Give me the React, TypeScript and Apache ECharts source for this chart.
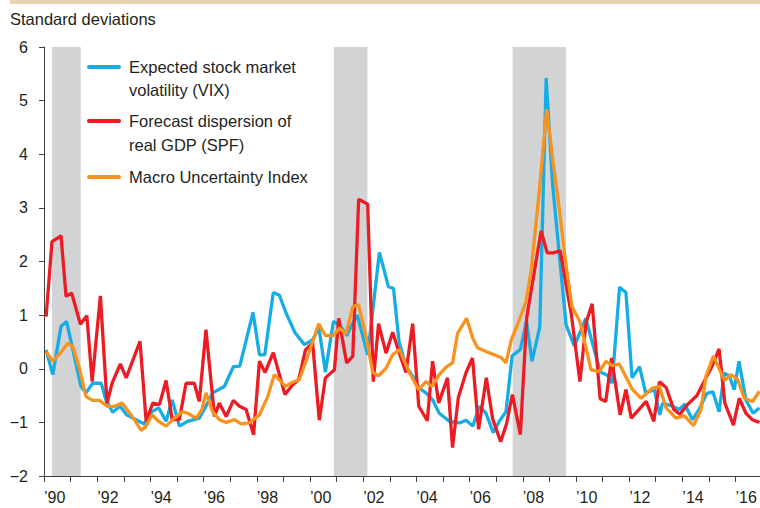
import React, { useEffect, useRef } from 'react';
import * as echarts from 'echarts';

// [year, standard deviations]
const vixData: [number, number][] = [
  [1990.08, 0.35], [1990.33, -0.11], [1990.64, 0.79], [1990.85, 0.88], [1991.14, 0.23], [1991.39, -0.33],
  [1991.58, -0.45], [1991.83, -0.27], [1992.15, -0.27], [1992.33, -0.58], [1992.58, -0.81], [1992.86, -0.70],
  [1993.11, -0.86], [1993.46, -0.95], [1993.77, -1.03], [1994.06, -0.80], [1994.31, -0.73], [1994.59, -0.98],
  [1994.82, -0.58], [1995.09, -1.07], [1995.40, -0.98], [1995.84, -0.92], [1996.09, -0.70], [1996.34, -0.45],
  [1996.78, -0.33], [1997.12, 0.04], [1997.36, 0.05], [1997.86, 1.05], [1998.10, 0.26], [1998.30, 0.26],
  [1998.62, 1.42], [1998.85, 1.37], [1999.10, 1.04], [1999.44, 0.67], [1999.79, 0.45], [2000.10, 0.54],
  [2000.34, 0.76], [2000.58, -0.06], [2000.88, 0.88], [2001.11, 0.82], [2001.39, 0.62], [2001.55, 0.79],
  [2001.78, 1.0], [2002.17, 0.26], [2002.61, 2.17], [2002.95, 1.53], [2003.14, 1.5], [2003.35, 0.5],
  [2003.61, 0.05], [2003.86, -0.14], [2004.11, -0.36], [2004.36, -0.45], [2004.61, -0.58], [2004.86, -0.83],
  [2005.24, -0.98], [2005.62, -1.01], [2005.87, -0.96], [2006.12, -1.07], [2006.37, -0.70], [2006.62, -0.83],
  [2006.89, -1.19], [2007.12, -0.98], [2007.37, -0.80], [2007.60, 0.24], [2007.91, 0.36], [2008.14, 0.88],
  [2008.35, 0.14], [2008.64, 0.78], [2008.88, 5.42], [2009.12, 3.45], [2009.38, 2.1], [2009.63, 0.82],
  [2009.94, 0.42], [2010.37, 0.94], [2010.63, 0.46], [2010.92, -0.06], [2011.18, -0.12], [2011.36, -0.27],
  [2011.64, 1.52], [2011.88, 1.42], [2012.11, -0.17], [2012.39, 0.04], [2012.62, -0.45], [2012.95, -0.39],
  [2013.15, -0.86], [2013.26, -0.64], [2013.58, -0.69], [2013.89, -0.76], [2014.09, -0.66], [2014.38, -0.95],
  [2014.63, -0.76], [2014.92, -0.46], [2015.15, -0.43], [2015.38, -0.80], [2015.58, -0.08], [2015.77, -0.14],
  [2015.95, -0.39], [2016.13, 0.14], [2016.39, -0.58], [2016.66, -0.83], [2016.90, -0.73],
];

const spfData: [number, number][] = [
  [1990.08, 0.97], [1990.30, 2.37], [1990.64, 2.48], [1990.83, 1.35], [1991.04, 1.41], [1991.37, 0.83],
  [1991.61, 0.99], [1991.81, -0.24], [1992.12, 1.36], [1992.37, -0.64], [1992.56, -0.27], [1992.87, 0.09],
  [1993.09, -0.17], [1993.61, 0.51], [1993.84, -0.98], [1994.09, -0.64], [1994.34, -0.67], [1994.59, -0.22],
  [1994.82, -0.95], [1995.09, -0.95], [1995.34, -0.27], [1995.65, -0.27], [1995.84, -0.61], [1996.09, 0.73],
  [1996.41, -0.89], [1996.59, -0.64], [1996.85, -0.89], [1997.12, -0.59], [1997.35, -0.70], [1997.60, -0.76],
  [1997.88, -1.23], [1998.10, 0.14], [1998.31, -0.07], [1998.62, 0.30], [1999.06, -0.48], [1999.35, -0.30],
  [1999.58, -0.20], [1999.83, 0.35], [2000.10, 0.48], [2000.35, -0.96], [2000.58, -0.17], [2000.92, -0.02],
  [2001.08, 0.94], [2001.38, 0.11], [2001.61, 0.23], [2001.83, 3.16], [2002.17, 3.07], [2002.38, -0.24],
  [2002.58, 0.84], [2002.86, 0.29], [2003.11, 0.68], [2003.36, 0.29], [2003.61, -0.07], [2003.86, 0.84],
  [2004.09, -0.70], [2004.41, -0.97], [2004.61, 0.14], [2004.84, -0.64], [2005.17, -0.17], [2005.36, -1.47],
  [2005.58, -0.53], [2005.87, -0.07], [2006.11, 0.2], [2006.34, -1.13], [2006.63, -0.17], [2006.87, -0.94],
  [2007.17, -1.36], [2007.39, -1.03], [2007.61, -0.48], [2007.91, -1.23], [2008.15, 0.96], [2008.69, 2.57],
  [2008.92, 2.16], [2009.15, 2.16], [2009.41, 2.2], [2009.83, 1.0], [2010.15, -0.24], [2010.38, 0.86],
  [2010.61, 1.21], [2010.91, -0.56], [2011.12, -0.61], [2011.34, 0.2], [2011.66, -0.86], [2011.88, -0.39],
  [2012.08, -0.92], [2012.64, -0.61], [2012.93, -0.98], [2013.14, -0.24], [2013.39, -0.35], [2013.68, -0.76],
  [2013.91, -0.85], [2014.19, -0.67], [2014.55, -0.5], [2014.86, -0.2], [2015.14, 0.07], [2015.38, 0.37],
  [2015.60, -0.64], [2015.92, -1.05], [2016.14, -0.55], [2016.39, -0.83], [2016.63, -0.95], [2016.90, -1.0],
];

const macroData: [number, number][] = [
  [1990.08, 0.32], [1990.33, 0.14], [1990.61, 0.29], [1990.89, 0.47], [1991.08, 0.42], [1991.33, 0.01],
  [1991.58, -0.52], [1991.83, -0.59], [1992.08, -0.59], [1992.39, -0.70], [1992.65, -0.70], [1992.94, -0.64],
  [1993.18, -0.80], [1993.40, -0.95], [1993.65, -1.15], [1993.84, -1.07], [1994.06, -0.86], [1994.31, -0.98],
  [1994.59, -1.07], [1994.90, -0.92], [1995.21, -0.80], [1995.40, -0.83], [1995.72, -0.92], [1995.94, -0.76],
  [1996.09, -0.45], [1996.34, -0.80], [1996.59, -0.95], [1996.85, -1.0], [1997.16, -0.95], [1997.41, -1.03],
  [1997.72, -1.01], [1998.10, -0.86], [1998.41, -0.52], [1998.66, -0.11], [1999.08, -0.33], [1999.35, -0.25],
  [1999.60, -0.2], [1999.85, 0.14], [2000.33, 0.84], [2000.58, 0.62], [2000.88, 0.62], [2001.11, 0.76],
  [2001.36, 0.65], [2001.61, 1.16], [2001.83, 1.19], [2002.11, 0.6], [2002.36, -0.07], [2002.58, -0.13],
  [2002.86, 0.01], [2003.11, 0.26], [2003.36, 0.36], [2003.74, -0.08], [2004.09, -0.39], [2004.36, -0.24],
  [2004.59, -0.33], [2004.86, -0.11], [2005.12, 0.03], [2005.36, 0.11], [2005.55, 0.66], [2005.89, 0.94],
  [2006.12, 0.57], [2006.30, 0.39], [2006.62, 0.32], [2006.93, 0.26], [2007.18, 0.21], [2007.37, 0.11],
  [2007.57, 0.54], [2007.87, 0.91], [2008.12, 1.25], [2008.31, 1.81], [2008.62, 3.3], [2008.90, 4.84],
  [2009.13, 3.9], [2009.38, 2.96], [2009.60, 2.03], [2009.85, 1.16], [2010.15, 0.88], [2010.57, -0.02],
  [2010.88, -0.05], [2011.13, 0.14], [2011.36, 0.06], [2011.63, 0.09], [2012.13, -0.39], [2012.45, -0.55],
  [2012.88, -0.36], [2013.14, -0.33], [2013.39, -0.73], [2013.76, -0.92], [2014.08, -0.88], [2014.42, -1.06],
  [2014.70, -0.76], [2014.89, -0.14], [2015.17, 0.24], [2015.58, -0.22], [2015.83, -0.11], [2016.08, -0.2],
  [2016.33, -0.55], [2016.64, -0.61], [2016.90, -0.42],
];

const recessions: [number, number][] = [
  [1990.3, 1991.38],
  [2000.9, 2002.16],
  [2007.62, 2009.63],
];

const seriesNames = [
  ['Expected stock market', 'volatility (VIX)'],
  ['Forecast dispersion of', 'real GDP (SPF)'],
  ['Macro Uncertainty Index'],
];
const seriesColors = ['#16ACE6', '#EC1C24', '#F7931E'];
const unitLabel = 'Standard deviations';

const FONT = "'Liberation Sans', Arial, sans-serif";
const TEXT = '#231F20';

export default function App() {
  const ref = useRef<HTMLDivElement>(null);
  useEffect(() => {
    document.body.style.margin = '0';
    const chart = echarts.init(ref.current!, null, { renderer: 'svg' });

    const legendY = [[67, 90], [121, 145], [177]];
    const graphics: any[] = [
      { type: 'rect', shape: { x: 10, y: 0, width: 750, height: 4 }, style: { fill: '#E6D3AF' }, silent: true },
      {
        type: 'text', x: 10, y: 19,
        style: { text: unitLabel, font: `16.5px ${FONT}`, fill: TEXT, textVerticalAlign: 'middle' },
      },
    ];
    seriesNames.forEach((lines, i) => {
      graphics.push({
        type: 'line',
        shape: { x1: 89, y1: legendY[i][0], x2: 119, y2: legendY[i][0] },
        style: { stroke: seriesColors[i], lineWidth: 4, lineCap: 'round' },
        z: 10,
      });
      lines.forEach((t, j) => {
        graphics.push({
          type: 'text', x: 129, y: legendY[i][j], z: 10,
          style: { text: t, font: `16.5px ${FONT}`, fill: TEXT, textVerticalAlign: 'middle' },
        });
      });
    });

    const lineSeries = (name: string, data: [number, number][], color: string, z: number) => ({
      name,
      type: 'line',
      data,
      showSymbol: false,
      symbol: 'none',
      z,
      lineStyle: { color, width: 3.3 },
      itemStyle: { color },
    });

    chart.setOption({
      animation: false,
      grid: { left: 44, right: 0, top: 47, bottom: 32, containLabel: false },
      xAxis: {
        type: 'value',
        min: 1990,
        max: 2016.92,
        interval: 1,
        axisLine: { onZero: false, lineStyle: { color: '#414042', width: 1 } },
        axisTick: { show: true, length: 6, lineStyle: { color: '#414042' } },
        splitLine: { show: false },
        axisLabel: {
          align: 'left',
          margin: 13,
          color: TEXT,
          fontFamily: FONT,
          fontSize: 16,
          showMaxLabel: false,
          formatter: (v: number) => (Number.isInteger(v) && v % 2 === 0 ? '\u2019' + String(v).slice(2) : ''),
        },
      },
      yAxis: {
        type: 'value',
        min: -2,
        max: 6,
        interval: 1,
        axisLine: { show: true, onZero: false, lineStyle: { color: '#414042', width: 1 } },
        axisTick: { show: true, length: 5, lineStyle: { color: '#414042' } },
        splitLine: { show: false },
        axisLabel: {
          margin: 16,
          color: TEXT,
          fontFamily: FONT,
          fontSize: 16,
          formatter: (v: number) => (v < 0 ? '\u2212' + Math.abs(v) : String(v)),
        },
      },
      graphic: graphics,
      series: [
        {
          name: 'recessions',
          type: 'line',
          data: [],
          z: 1,
          silent: true,
          markArea: {
            silent: true,
            itemStyle: { color: '#D1D3D4' },
            data: recessions.map(([a, b]) => [{ xAxis: a }, { xAxis: b }]),
          },
        },
        lineSeries('Expected stock market volatility (VIX)', vixData, seriesColors[0], 2),
        lineSeries('Forecast dispersion of real GDP (SPF)', spfData, seriesColors[1], 3),
        lineSeries('Macro Uncertainty Index', macroData, seriesColors[2], 4),
      ],
    });
    return () => chart.dispose();
  }, []);
  return <div ref={ref} style={{ width: 760, height: 508 }} />;
}
